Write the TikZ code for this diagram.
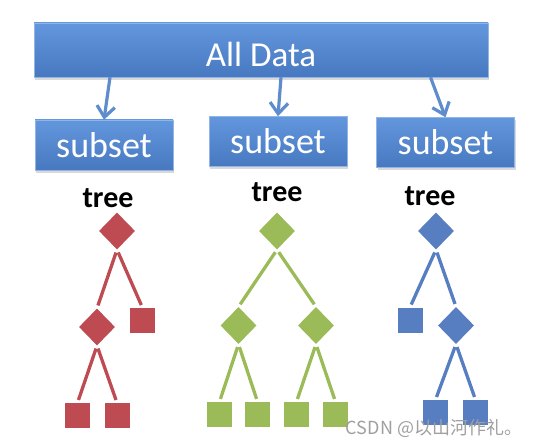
\documentclass[tikz,border=0pt]{standalone}
\usepackage{fontspec}
\setmainfont{Carlito}
\newfontfamily\cjkfont{Noto Sans CJK SC}
\usepackage{tikz}
\usetikzlibrary{arrows.meta, positioning, shapes.geometric, shadows}

\definecolor{boxtop}{RGB}{98,150,221}
\definecolor{boxbot}{RGB}{72,121,192}
\definecolor{arrowblue}{RGB}{95,140,205}
\definecolor{treered}{RGB}{190,75,82}
\definecolor{treegreen}{RGB}{155,187,89}
\definecolor{treeblue}{RGB}{86,126,193}

\begin{document}
\begin{tikzpicture}[
  x=1pt, y=-1pt,
  databox/.style = {top color=boxtop, bottom color=boxbot, draw=boxtop!70!white,
                    line width=0.5pt, text=white, inner sep=0pt,
                    drop shadow={opacity=0.3, shadow xshift=1pt, shadow yshift=-3pt}},
  subbox/.style  = {databox, minimum width=138pt, minimum height=50pt,
                    font=\fontsize{36}{42}\selectfont},
  arrow/.style   = {arrowblue, line width=3.2pt, -{Straight Barb[length=11pt, width=18pt]}},
  treelbl/.style = {font=\bfseries\fontsize{30}{36}\selectfont, inner sep=0pt},
  split/.style   = {diamond, fill=#1, inner sep=0pt, minimum width=36pt, minimum height=37pt},
  leaf/.style    = {rectangle, fill=#1, inner sep=0pt, minimum size=25pt},
  edge/.style    = {#1, line width=3.3pt, shorten <=3pt, shorten >=3pt}
]
  \useasboundingbox (0,0) rectangle (537,446);

  % All Data
  \node[databox, minimum width=454pt, minimum height=54pt, text height=34pt, text depth=0pt,
        font=\fontsize{35}{42}\selectfont] (alldata) at (261,50) {All Data};

  % Subsets
  \node[subbox] (sub1) at (104,145)   {subset};
  \node[subbox] (sub2) at (278,141.5) {subset};
  \node[subbox] (sub3) at (445.5,142.5) {subset};

  \draw[arrow] ([xshift=6pt]alldata.south -| sub1.north) -- (sub1.north);
  \draw[arrow] ([xshift=3pt]alldata.south -| sub2.north) -- (sub2.north);
  \draw[arrow] ([xshift=-15pt]alldata.south -| sub3.north) -- (sub3.north);

  % Red tree
  \node[treelbl] (lbl1) at (108,198) {tree};
  \node[split=treered] (r0) at (117,231) {};
  \node[split=treered] (r1) at (97,327) {};
  \node[leaf=treered] (r2) at (142.5,320.5) {};
  \node[leaf=treered] (r3) at (77.5,415.5) {};
  \node[leaf=treered] (r4) at (117,415.5) {};
  \draw[edge=treered] (r0.south) -- (r1.north);
  \draw[edge=treered] (r0.south) -- (r2.north);
  \draw[edge=treered] (r1.south) -- (r3.north);
  \draw[edge=treered] (r1.south) -- (r4.north);

  % Green tree
  \node[treelbl] (lbl2) at (277,192) {tree};
  \node[split=treegreen] (g0) at (277,231) {};
  \node[split=treegreen] (g1) at (238.5,325.5) {};
  \node[split=treegreen] (g2) at (316,325.5) {};
  \node[leaf=treegreen] (g3) at (219.5,414.5) {};
  \node[leaf=treegreen] (g4) at (257.5,414.5) {};
  \node[leaf=treegreen] (g5) at (296.5,414.5) {};
  \node[leaf=treegreen] (g6) at (335.5,414.5) {};
  \draw[edge=treegreen] (g0.south) -- (g1.north);
  \draw[edge=treegreen] (g0.south) -- (g2.north);
  \draw[edge=treegreen] (g1.south) -- (g3.north);
  \draw[edge=treegreen] (g1.south) -- (g4.north);
  \draw[edge=treegreen] (g2.south) -- (g5.north);
  \draw[edge=treegreen] (g2.south) -- (g6.north);

  % Blue tree
  \node[treelbl] (lbl3) at (430,196) {tree};
  \node[split=treeblue] (b0) at (436,231) {};
  \node[leaf=treeblue] (b1) at (410,320) {};
  \node[split=treeblue] (b2) at (456,325.5) {};
  \node[leaf=treeblue] (b3) at (435.5,412.5) {};
  \node[leaf=treeblue] (b4) at (475.5,412.5) {};
  \draw[edge=treeblue] (b0.south) -- (b1.north);
  \draw[edge=treeblue] (b0.south) -- (b2.north);
  \draw[edge=treeblue] (b2.south) -- (b3.north);
  \draw[edge=treeblue] (b2.south) -- (b4.north);

  % Watermark
  \node[text=gray!75, font=\cjkfont\fontsize{18}{21}\selectfont, inner sep=0pt]
    (mark) at (434,428) {CSDN @以山河作礼。};
\end{tikzpicture}
\end{document}
